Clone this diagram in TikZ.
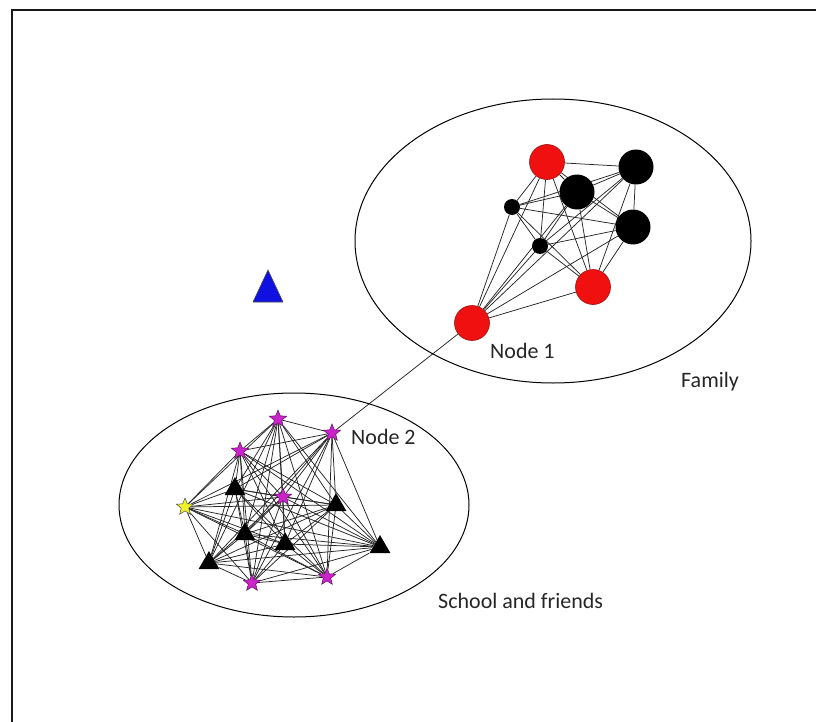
\documentclass[tikz,border=0pt]{standalone}
\usepackage{fontspec}
\setmainfont{Carlito}
\usetikzlibrary{shapes.geometric,backgrounds}
\definecolor{nodered}{HTML}{F01010}
\definecolor{redline}{HTML}{A01010}
\definecolor{starpurple}{HTML}{CC22CC}
\definecolor{starline}{HTML}{5A105A}
\definecolor{staryellow}{HTML}{F2F22A}
\definecolor{triblue}{HTML}{1010E0}
\begin{document}
\begin{tikzpicture}[x=1pt,y=-1pt,
  redn/.style={circle,fill=nodered,draw=redline,line width=0.6pt,minimum size=35pt,inner sep=0pt},
  bigb/.style={circle,fill=black,minimum size=35pt,inner sep=0pt},
  smallb/.style={circle,fill=black,minimum size=16pt,inner sep=0pt},
  pstar/.style={star,star points=5,star point ratio=2.3,fill=starpurple,draw=starline,line width=0.5pt,minimum size=18pt,inner sep=0pt},
  ystar/.style={pstar,fill=staryellow,draw=black!70},
  btri/.style={regular polygon,regular polygon sides=3,fill=black,minimum size=24pt,inner sep=0pt},
  edge/.style={draw=black!85,line width=0.75pt},
  group/.style={draw=black,line width=1pt},
  lbl/.style={font=\fontsize{22}{26}\selectfont,text=black!85,anchor=base west,inner sep=0pt}]
\useasboundingbox (0,0) rectangle (816,722);
% frame
\draw[line width=2.4pt,black!90] (12,722) -- (12,10) -- (816,10);
% groups
\draw[group] (553,241) ellipse [x radius=198, y radius=142];
\draw[group] (294,505) ellipse [x radius=175, y radius=112];
% family nodes
\node[redn]   (r1) at (547,162) {};
\node[bigb]   (b1) at (636,167) {};
\node[bigb]   (b2) at (577,192) {};
\node[smallb] (k1) at (512,207) {};
\node[bigb]   (b3) at (633,227) {};
\node[smallb] (k2) at (540,246) {};
\node[redn]   (r2) at (593,287) {};
\node[redn]   (r3) at (472,323) {};
% school nodes
\node[pstar] (s1) at (278,419) {};
\node[pstar] (s2) at (332,433) {};
\node[pstar] (s3) at (240,451) {};
\node[ystar] (y1) at (185,507) {};
\node[btri]  (t1) at (235,489) {};
\node[pstar] (s4) at (283,497) {};
\node[btri]  (t2) at (336,505) {};
\node[btri]  (t3) at (245,534) {};
\node[btri]  (t4) at (285,544) {};
\node[btri]  (t5) at (209,563) {};
\node[btri]  (t6) at (380,547) {};
\node[pstar] (s5) at (252,583) {};
\node[pstar] (s6) at (327,577) {};
% isolated blue node
\draw[fill=triblue,draw=black!70,line width=0.6pt] (268,270) -- (283,302) -- (253,302) -- cycle;
% edges
\begin{pgfonlayer}{background}
\def\famlist{r1,b1,b2,k1,b3,k2,r2,r3}
\foreach \a [count=\i] in \famlist {
  \foreach \b [count=\j] in \famlist {
    \ifnum\j>\i \draw[edge] (\a) -- (\b); \fi
  }
}
\def\schlist{s1,s2,s3,y1,t1,s4,t2,t3,t4,t5,t6,s5,s6}
\foreach \a [count=\i] in \schlist {
  \foreach \b [count=\j] in \schlist {
    \ifnum\j>\i \draw[edge] (\a) -- (\b); \fi
  }
}
\draw[edge] (r3) -- (s2);
\end{pgfonlayer}
% labels
\node[lbl] (l1) at (490,358) {Node 1};
\node[lbl] (l2) at (681,387) {Family};
\node[lbl] (l3) at (351,444) {Node 2};
\node[lbl] (l4) at (438,608) {School and friends};
\end{tikzpicture}
\end{document}
